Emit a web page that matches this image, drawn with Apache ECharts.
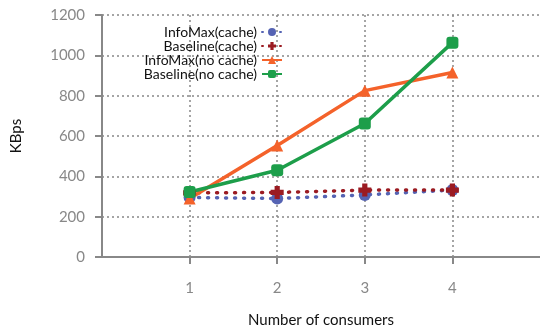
<!DOCTYPE html>
<html>
<head>
<meta charset="UTF-8">
<title>KBps vs consumers</title>
<script type="text/javascript" src="https://cdn.jsdelivr.net/npm/echarts@6/dist/echarts.min.js"></script>
</head>
<body style="margin:0">
<div id="box" style="width:540px;height:333px;"></div>

<script type="text/javascript">
// data
var consumers=[1,2,3,4];
var infoCache=[295,290,308,332];
var baseCache=[318,320,332,332];
var infoNoCache=[290,553,825,915];
var baseNoCache=[322,430,662,1063];
var names=['InfoMax(cache)','Baseline(cache)','InfoMax(no cache)','Baseline(no cache)'];
var colors=['#5563b3','#9b1b22','#f4622a','#1d9e4a'];

var plus='path://M3,0 L7,0 L7,3 L10,3 L10,7 L7,7 L7,10 L3,10 L3,7 L0,7 L0,3 L3,3 Z';
var font='Lato, "DejaVu Sans", sans-serif';

function pairs(vals){
  var out=[];
  for(var i=0;i<vals.length;i++) out.push([consumers[i],vals[i]]);
  return out;
}

var mychart=echarts.init(document.getElementById('box'));

var legendTops=[25,39,53,67];
var legends=[];
for(var i=0;i<names.length;i++){
  legends.push({
    data:[names[i]],
    right:257,
    top:legendTops[i],
    align:'right',
    itemWidth:20,
    itemHeight:10,
    padding:0,
    textStyle:{color:'#111',fontSize:14,fontFamily:font,padding:[0,0,0,0]},
    itemGap:4
  });
}

mychart.setOption({
  animation:false,
  legend:legends,
  grid:{left:102,right:-1,top:15,bottom:75},
  xAxis:{
    type:'value',min:0,max:5,interval:1,
    name:'Number of consumers',nameLocation:'middle',nameGap:56,
    nameTextStyle:{color:'#111',fontSize:15,fontFamily:font},
    axisLine:{lineStyle:{color:'#888',width:2}},
    axisTick:{show:true,length:7,lineStyle:{color:'#888',width:2},customValues:consumers},
    axisLabel:{color:'#888',fontSize:15,fontFamily:font,margin:24,customValues:consumers},
    splitLine:{show:true,lineStyle:{color:'#888',type:[2,3],width:1.5}}
  },
  yAxis:{
    type:'value',min:0,max:1200,interval:200,
    name:'KBps',nameLocation:'middle',nameGap:78,
    nameTextStyle:{color:'#111',fontSize:15,fontFamily:font},
    axisLine:{show:true,lineStyle:{color:'#888',width:2}},
    axisTick:{show:true,length:7,lineStyle:{color:'#888',width:2}},
    axisLabel:{color:'#888',fontSize:15,fontFamily:font,margin:17,formatter:function(v){return String(v);}},
    splitLine:{show:true,lineStyle:{color:'#888',type:[2,3],width:1.5}}
  },
  series:[{
    name:names[0],type:'line',data:pairs(infoCache),
    symbol:'circle',symbolSize:12,color:colors[0],
    lineStyle:{width:3.5,type:[1,8],cap:'round'}
  },{
    name:names[1],type:'line',data:pairs(baseCache),
    symbol:plus,symbolSize:13,color:colors[1],
    lineStyle:{width:3.5,type:[1,8],cap:'round'}
  },{
    name:names[2],type:'line',data:pairs(infoNoCache),
    symbol:'triangle',symbolSize:12,color:colors[2],
    lineStyle:{width:3.5}
  },{
    name:names[3],type:'line',data:pairs(baseNoCache),
    symbol:'roundRect',symbolSize:12,color:colors[3],
    lineStyle:{width:3.5}
  }]
});
</script>
</body>
</html>
